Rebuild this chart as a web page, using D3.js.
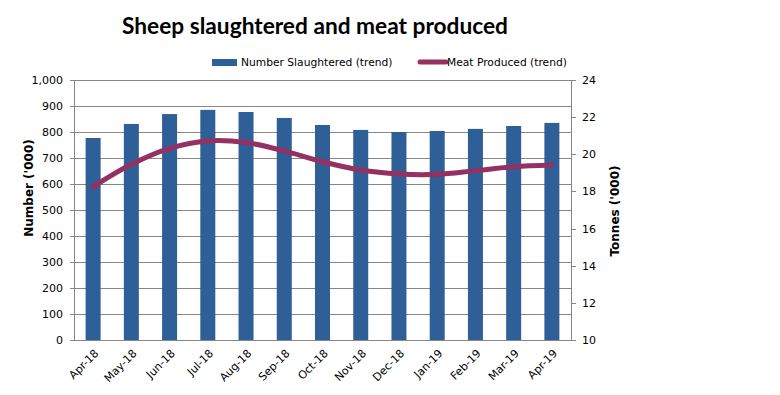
<!DOCTYPE html>
<html lang="en">
<head>
    <meta charset="utf-8">
    <title>Sheep slaughtered</title>
    <script src="https://cdn.jsdelivr.net/npm/d3@7"></script>
    <style>
        body { margin: 0; background: #fff; }
        text { font-family: "DejaVu Sans", Verdana, sans-serif; }
    </style>
</head>
<body>
<script>
    // data
    var months = ["Apr-18", "May-18", "Jun-18", "Jul-18", "Aug-18", "Sep-18", "Oct-18",
        "Nov-18", "Dec-18", "Jan-19", "Feb-19", "Mar-19", "Apr-19"];
    var slaughtered = [777, 831, 869, 885, 877, 854, 827, 808, 800, 804, 812, 823, 835];
    var meat = [18.25, 19.46, 20.32, 20.72, 20.63, 20.18, 19.6, 19.15, 18.94, 18.92, 19.12, 19.33, 19.42];
    var leftTicks = [0, 100, 200, 300, 400, 500, 600, 700, 800, 900, 1000];
    var rightTicks = [10, 12, 14, 16, 18, 20, 22, 24];

    var w = 780, h = 395;
    // plot area (note: "top" would clash with window.top)
    var pLeft = 74, pRight = 571, pTop = 80, pBottom = 340;

    var svg = d3.select("body").append("svg").attr("width", w).attr("height", h);

    var x = d3.scaleBand().domain(months).range([pLeft, pRight]);
    var yL = d3.scaleLinear().domain([0, 1000]).range([pBottom, pTop]);
    var yR = d3.scaleLinear().domain([10, 24]).range([pBottom, pTop]);

    // gridlines
    svg.append("g").selectAll("line")
        .data(leftTicks.slice(1))
        .enter().append("line")
        .attr("x1", pLeft).attr("x2", pRight)
        .attr("y1", d => yL(d)).attr("y2", d => yL(d))
        .attr("stroke", "#868686").attr("stroke-width", 1)
        .attr("shape-rendering", "crispEdges");

    // bars
    var bw = 15;
    svg.append("g").selectAll("rect")
        .data(slaughtered)
        .enter().append("rect")
        .attr("x", (d, i) => x(months[i]) + x.bandwidth() / 2 - bw / 2)
        .attr("width", bw)
        .attr("y", d => yL(d))
        .attr("height", d => pBottom - yL(d))
        .attr("fill", "#2f5f97");

    // axes
    var axL = svg.append("g").attr("transform", "translate(" + pLeft + ",0)")
        .call(d3.axisLeft(yL).tickValues(leftTicks).tickFormat(d3.format(",")).tickSizeOuter(0).tickSize(4));
    var axR = svg.append("g").attr("transform", "translate(" + pRight + ",0)")
        .call(d3.axisRight(yR).tickValues(rightTicks).tickSizeOuter(0).tickSize(5));
    var axB = svg.append("g").attr("transform", "translate(0," + pBottom + ")")
        .call(d3.axisBottom(x).tickSize(0).tickSizeOuter(0));

    [axL, axR, axB].forEach(function (a) {
        a.selectAll("path, line").attr("stroke", "#868686").attr("shape-rendering", "crispEdges");
        a.selectAll("text").style("font-size", "11px").attr("fill", "#000");
    });
    axL.selectAll("text").attr("x", -11);
    axR.selectAll("text").attr("x", 11);
    axB.selectAll("text")
        .attr("text-anchor", "end")
        .attr("dy", 0)
        .attr("transform", "translate(4,12) rotate(-45)");

    // smoothed line
    var line = d3.line()
        .x((d, i) => x(months[i]) + x.bandwidth() / 2)
        .y(d => yR(d))
        .curve(d3.curveCatmullRom.alpha(0.5));
    svg.append("path")
        .datum(meat)
        .attr("d", line)
        .attr("fill", "none")
        .attr("stroke", "#953062")
        .attr("stroke-width", 5)
        .attr("stroke-linecap", "round");

    // title
    svg.append("text")
        .attr("x", 315).attr("y", 34)
        .attr("text-anchor", "middle")
        .style("font-family", "Lato, 'Open Sans', sans-serif")
        .style("font-weight", "bold")
        .style("font-size", "22.7px")
        .text("Sheep slaughtered and meat produced");

    // legend
    svg.append("rect").attr("x", 212).attr("y", 59).attr("width", 25).attr("height", 7).attr("fill", "#2f5f97");
    svg.append("text").attr("x", 241).attr("y", 66).style("font-size", "10.7px")
        .text("Number Slaughtered (trend)");
    svg.append("line").attr("x1", 420).attr("x2", 446).attr("y1", 62).attr("y2", 62)
        .attr("stroke", "#953062").attr("stroke-width", 5).attr("stroke-linecap", "round");
    svg.append("text").attr("x", 447).attr("y", 66).style("font-size", "10.7px")
        .text("Meat Produced (trend)");

    // axis titles
    svg.append("text")
        .attr("transform", "translate(33,188) rotate(-90)")
        .attr("text-anchor", "middle")
        .style("font-weight", "bold").style("font-size", "12px")
        .text("Number ('000)");
    svg.append("text")
        .attr("transform", "translate(619,211) rotate(-90)")
        .attr("text-anchor", "middle")
        .style("font-weight", "bold").style("font-size", "12px")
        .text("Tonnes ('000)");
</script>
</body>
</html>
